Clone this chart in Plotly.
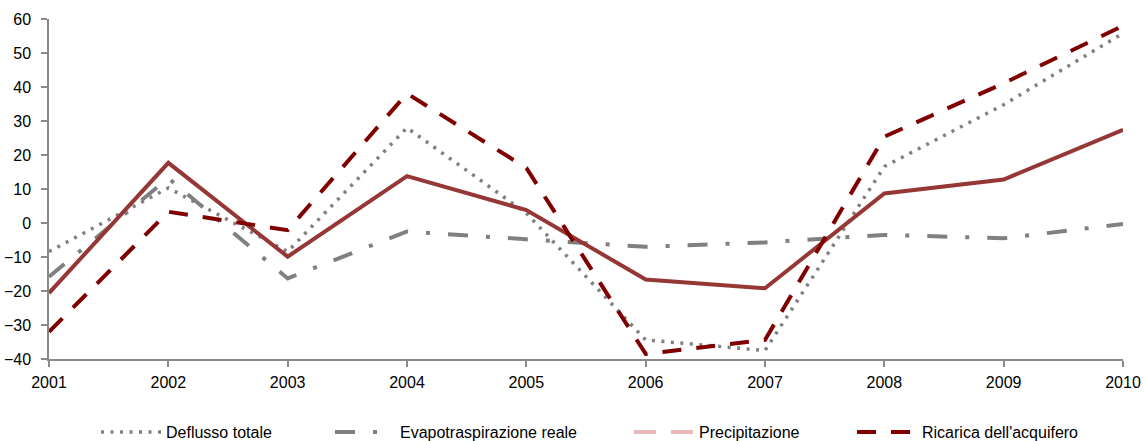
import plotly.graph_objects as go

years = [2001, 2002, 2003, 2004, 2005, 2006, 2007, 2008, 2009, 2010]

deflusso_totale = [-8.4, 10.3, -8.4, 28.0, 2.9, -34.4, -37.5, 16.6, 34.8, 55.8]
evapotraspirazione_reale = [-15.8, 13.2, -16.3, -2.5, -4.8, -7.0, -5.7, -3.5, -4.5, -0.3]
precipitazione = [-20.6, 17.7, -9.9, 13.8, 3.8, -16.6, -19.2, 8.7, 12.8, 27.4]
ricarica_acquifero = [-32.0, 3.3, -2.1, 38.1, 16.2, -38.5, -34.4, 25.4, 41.1, 58.0]

y_ticks = [-40, -30, -20, -10, 0, 10, 20, 30, 40, 50, 60]

GRAY = "#808080"
DARK_RED = "#800000"
BRICK = "#953735"
PINK = "#E6B9B8"
AXIS = "#898989"
FONT = "Liberation Sans, Arial, sans-serif"
W, H = 1145, 441

fig = go.Figure()

fig.add_trace(go.Scatter(
    x=years, y=deflusso_totale, mode="lines", name="Deflusso totale",
    line=dict(color=GRAY, width=3.5, dash="3px,6.5px"), legend="legend",
))
fig.add_trace(go.Scatter(
    x=years, y=evapotraspirazione_reale, mode="lines", name="Evapotraspirazione reale",
    line=dict(color=GRAY, width=4, dash="20px,18px,4px,18px"), legend="legend2",
))
# precipitation series plotted as a solid line
fig.add_trace(go.Scatter(
    x=years, y=precipitazione, mode="lines", name="Precipitazione",
    line=dict(color=BRICK, width=4), showlegend=False,
))
# legend key for the precipitation series
fig.add_trace(go.Scatter(
    x=[None], y=[None], mode="lines", name="Precipitazione",
    line=dict(color=PINK, width=4, dash="22px,15px"), legend="legend3",
))
fig.add_trace(go.Scatter(
    x=years, y=ricarica_acquifero, mode="lines", name="Ricarica dell'acquifero",
    line=dict(color=DARK_RED, width=4, dash="19px,15px"), legend="legend4",
))

legend_y = 1 - 432 / H
legend_common = dict(
    orientation="h", xref="container", yref="container",
    yanchor="middle", y=legend_y, xanchor="left",
    font=dict(family=FONT, size=16, color="#000000"),
    bgcolor="rgba(0,0,0,0)", itemwidth=60, traceorder="normal",
)

fig.update_layout(
    width=W, height=H,
    margin=dict(l=49, r=22, t=19, b=82, autoexpand=False),
    paper_bgcolor="white", plot_bgcolor="white",
    font=dict(family=FONT, size=16, color="#000000"),
    legend=dict(x=96 / W, **legend_common),
    legend2=dict(x=330 / W, **legend_common),
    legend3=dict(x=629 / W, **legend_common),
    legend4=dict(x=852 / W, **legend_common),
    xaxis=dict(
        range=[2001, 2010], tickmode="array", tickvals=years,
        ticktext=[str(y) for y in years],
        showgrid=False, zeroline=False, showline=True, linecolor=AXIS, linewidth=1.5,
        ticks="outside", ticklen=6, tickcolor=AXIS, tickwidth=1.5,
        ticklabelstandoff=2, tickfont=dict(family=FONT, size=16, color="#000000"),
    ),
    yaxis=dict(
        range=[-40, 60], tickmode="array", tickvals=y_ticks,
        showgrid=False, zeroline=False, showline=True, linecolor=AXIS, linewidth=1.5,
        ticks="outside", ticklen=6, tickcolor=AXIS, tickwidth=1.5,
        ticklabelstandoff=7, tickfont=dict(family=FONT, size=16, color="#000000"),
    ),
)

fig.write_html("out.html")
